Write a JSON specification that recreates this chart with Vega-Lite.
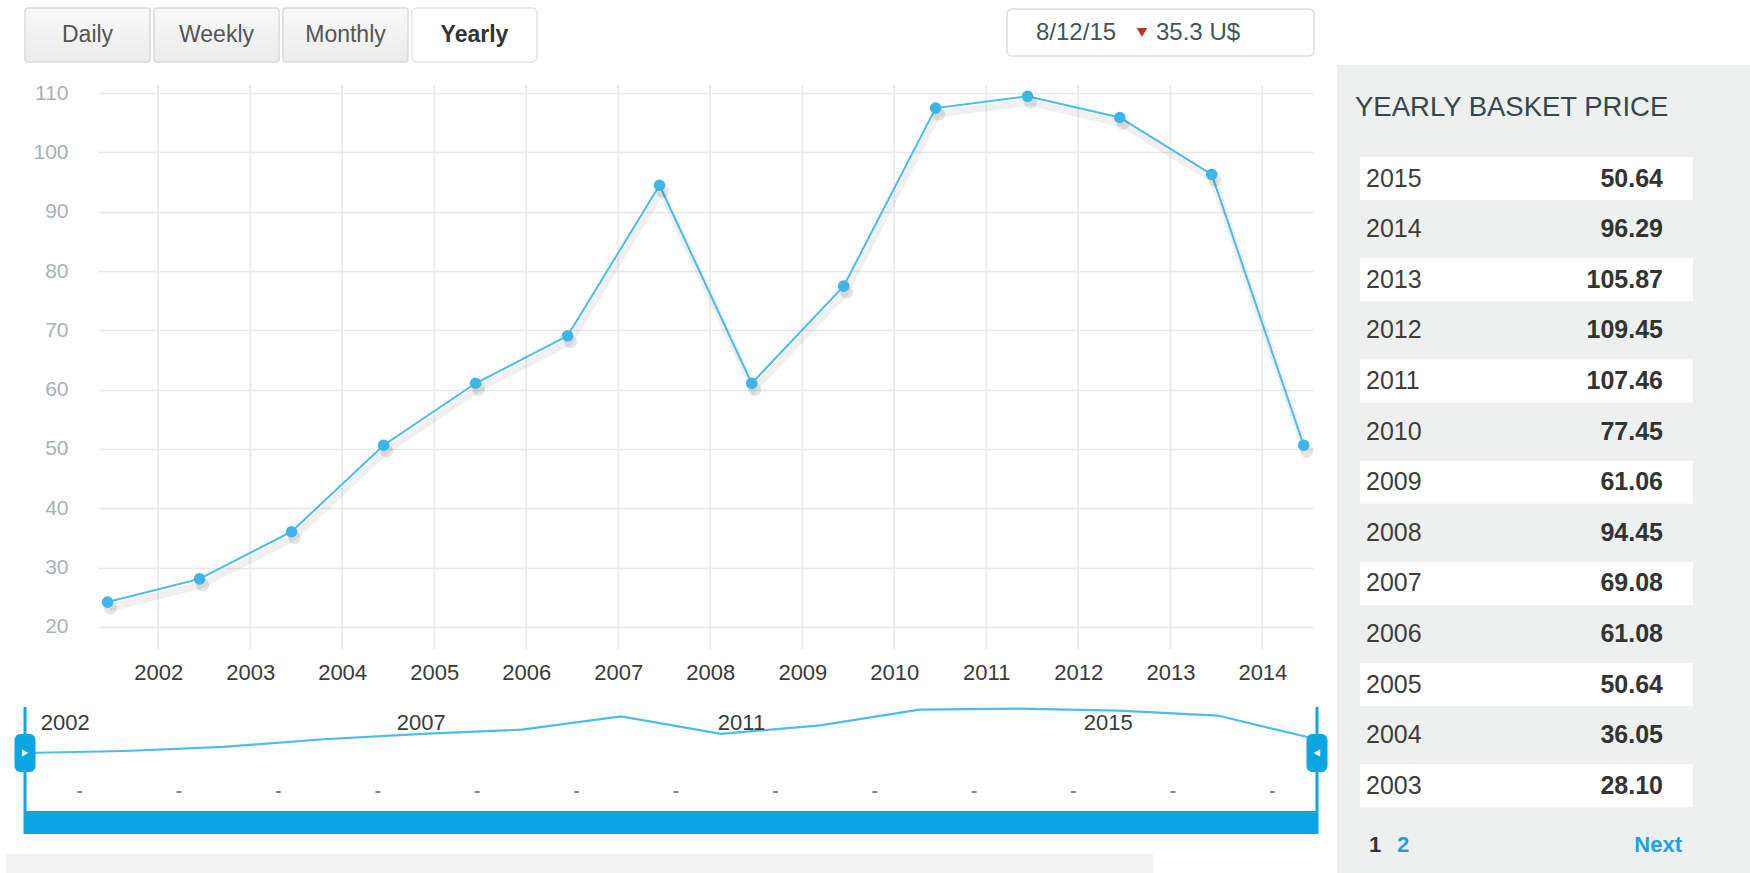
{
  "$schema": "https://vega.github.io/schema/vega-lite/v6.json",
  "width": 1750,
  "height": 873,
  "autosize": {"type": "none"},
  "padding": 0,
  "background": "#ffffff",
  "config": {"view": {"stroke": null}, "font": "Liberation Sans"},
  "datasets": {
    "prices": [
      {"year": 2002, "date": "2001-06-14", "price": 24.2},
      {"year": 2003, "date": "2002-06-14", "price": 28.10},
      {"year": 2004, "date": "2003-06-14", "price": 36.05},
      {"year": 2005, "date": "2004-06-14", "price": 50.64},
      {"year": 2006, "date": "2005-06-14", "price": 61.08},
      {"year": 2007, "date": "2006-06-14", "price": 69.08},
      {"year": 2008, "date": "2007-06-14", "price": 94.45},
      {"year": 2009, "date": "2008-06-14", "price": 61.06},
      {"year": 2010, "date": "2009-06-14", "price": 77.45},
      {"year": 2011, "date": "2010-06-14", "price": 107.46},
      {"year": 2012, "date": "2011-06-14", "price": 109.45},
      {"year": 2013, "date": "2012-06-14", "price": 105.87},
      {"year": 2014, "date": "2013-06-14", "price": 96.29},
      {"year": 2015, "date": "2014-06-14", "price": 50.64}
    ],
    "navRange": [
      {"start": "2001-06-14", "end": "2014-06-14"}
    ],
    "handles": [
      {"side": "left", "date": "2001-06-14"},
      {"side": "right", "date": "2014-06-14"}
    ],
    "navLabels": [
      {"label": "2002", "date": "2001-08-11"},
      {"label": "2007", "date": "2005-03-11"},
      {"label": "2011", "date": "2008-06-03"},
      {"label": "2015", "date": "2012-02-08"}
    ],
    "years": [
      {"date": "2002-01-01"}, {"date": "2003-01-01"}, {"date": "2004-01-01"}, {"date": "2005-01-01"},
      {"date": "2006-01-01"}, {"date": "2007-01-01"}, {"date": "2008-01-01"}, {"date": "2009-01-01"},
      {"date": "2010-01-01"}, {"date": "2011-01-01"}, {"date": "2012-01-01"}, {"date": "2013-01-01"},
      {"date": "2014-01-01"}
    ],
    "buttons": [
      {"label": "Daily"}, {"label": "Weekly"}, {"label": "Monthly"}, {"label": "Yearly"}
    ],
    "latest": [
      {"date": "8/12/15", "price": "35.3 U$"}
    ],
    "panel": [
      {"title": "YEARLY BASKET PRICE"}
    ],
    "blank": [{"id": 1}]
  },
  "layer": [
    {
      "data": {"name": "blank"},
      "encoding": {
        "x": {"datum": 0, "type": "quantitative", "scale": {"domain": [0, 1], "range": [6, 1153]}, "axis": null},
        "y": {"datum": 0, "type": "quantitative", "scale": {"domain": [0, 1], "range": [854, 873]}, "axis": null}
      },
      "layer": [
        {"mark": {"type": "rect", "fill": "#f2f2f2"}, "encoding": {"x2": {"datum": 1}, "y2": {"datum": 1}}}
      ]
    },
    {
      "encoding": {
        "x": {
          "field": "date", "type": "temporal",
          "scale": {"type": "utc", "domain": [{"year": 2001, "month": 5, "date": 7, "utc": true}, {"year": 2014, "month": 7, "date": 21, "utc": true}], "range": [98, 1313]},
          "axis": {"orient": "bottom", "offset": -224, "format": "%Y", "tickCount": {"interval": "year", "step": 1}, "grid": false, "ticks": false, "domain": false, "labelFlush": false, "labelOverlap": false, "labelPadding": 13, "labelFontSize": 22, "labelColor": "#3a3a3a", "title": null}
        }
      },
      "layer": [
        {
          "data": {"name": "years"},
          "mark": {"type": "rule", "color": "#e8e8e8", "strokeWidth": 1.5},
          "encoding": {
            "y": {"datum": 16.29, "type": "quantitative", "scale": {"domain": [16.29, 111.35], "range": [649, 85], "nice": false, "zero": false}, "axis": {"orient": "left", "offset": -98, "values": [20, 30, 40, 50, 60, 70, 80, 90, 100, 110], "grid": true, "gridColor": "#e8e8e8", "gridWidth": 1.5, "ticks": false, "domain": false, "labelPadding": 30, "labelFontSize": 21, "labelColor": "#a9b1b6", "title": null}},
            "y2": {"datum": 111.35}
          }
        },
        {
          "data": {"name": "prices"},
          "encoding": {
            "y": {"field": "price", "type": "quantitative", "scale": {"domain": [16.29, 111.35], "range": [649, 85], "nice": false, "zero": false}, "axis": {"orient": "left", "offset": -98, "values": [20, 30, 40, 50, 60, 70, 80, 90, 100, 110], "grid": true, "gridColor": "#e8e8e8", "gridWidth": 1.5, "ticks": false, "domain": false, "labelPadding": 30, "labelFontSize": 21, "labelColor": "#a9b1b6", "title": null}}
          },
          "layer": [
            {"mark": {"type": "line", "color": "#000000", "opacity": 0.06, "strokeWidth": 7, "xOffset": 2, "yOffset": 6}},
            {"mark": {"type": "line", "color": "#4cbbe9", "strokeWidth": 2}},
            {"mark": {"type": "circle", "color": "#000000", "opacity": 0.1, "size": 170, "xOffset": 3, "yOffset": 6}},
            {"mark": {"type": "circle", "color": "#3db5e8", "opacity": 1, "size": 135}}
          ]
        }
      ]
    },
    {
      "encoding": {
        "x": {"field": "date", "type": "temporal", "scale": {"type": "utc", "domain": [{"year": 2001, "month": 6, "date": 14, "utc": true}, {"year": 2014, "month": 6, "date": 14, "utc": true}], "range": [25, 1317]}, "axis": null}
      },
      "layer": [
        {
          "data": {"name": "navRange"},
          "mark": {"type": "rect", "fill": "#0aa6e3"},
          "encoding": {
            "x": {"field": "start", "type": "temporal"},
            "x2": {"field": "end"},
            "y": {"datum": -87.3, "type": "quantitative", "scale": {"domain": [-140, 140], "range": [838.4, 692.8], "nice": false, "zero": false}, "axis": null},
            "y2": {"datum": -131.6}
          }
        },
        {
          "data": {"name": "prices"},
          "mark": {"type": "line", "color": "#4dbcea", "strokeWidth": 2.2, "interpolate": "linear"},
          "encoding": {"y": {"field": "price", "type": "quantitative", "scale": {"domain": [-140, 140], "range": [838.4, 692.8], "nice": false, "zero": false}, "axis": null}}
        },
        {
          "data": {"name": "navLabels"},
          "mark": {"type": "text", "align": "left", "baseline": "middle", "fontSize": 22, "color": "#3a3a3a"},
          "encoding": {"y": {"datum": 81.9, "type": "quantitative", "scale": {"domain": [-140, 140], "range": [838.4, 692.8], "nice": false, "zero": false}, "axis": null}, "text": {"field": "label", "type": "nominal"}}
        },
        {
          "data": {"name": "years"},
          "mark": {"type": "tick", "orient": "horizontal", "size": 5, "thickness": 2, "color": "#555555"},
          "encoding": {"y": {"datum": -50.8, "type": "quantitative", "scale": {"domain": [-140, 140], "range": [838.4, 692.8], "nice": false, "zero": false}, "axis": null}}
        },
        {
          "data": {"name": "handles"},
          "mark": {"type": "rule", "color": "#0aa6e3", "strokeWidth": 3},
          "encoding": {"y": {"datum": 112.7, "type": "quantitative", "scale": {"domain": [-140, 140], "range": [838.4, 692.8], "nice": false, "zero": false}, "axis": null}, "y2": {"datum": -131.6}}
        },
        {
          "data": {"name": "handles"},
          "mark": {"type": "rect", "fill": "#0aa6e3", "cornerRadius": 6, "xOffset": -10.5, "x2Offset": 10.5},
          "encoding": {"x2": {"field": "date"}, "y": {"datum": 60.7, "type": "quantitative", "scale": {"domain": [-140, 140], "range": [838.4, 692.8], "nice": false, "zero": false}, "axis": null}, "y2": {"datum": -12.3}}
        },
        {
          "data": {"name": "handles"},
          "mark": {"type": "point", "filled": true, "color": "#ffffff", "opacity": 1, "size": 55},
          "encoding": {
            "y": {"datum": 24.2, "type": "quantitative", "scale": {"domain": [-140, 140], "range": [838.4, 692.8], "nice": false, "zero": false}, "axis": null},
            "shape": {"field": "side", "type": "nominal", "scale": {"domain": ["left", "right"], "range": ["triangle-right", "triangle-left"]}, "legend": null}
          }
        }
      ]
    },
    {
      "data": {"name": "buttons"},
      "encoding": {
        "x": {"field": "label", "type": "nominal", "sort": null, "scale": {"type": "band", "range": [25, 537], "paddingInner": 0.03, "paddingOuter": 0}, "axis": null},
        "y": {"datum": 0, "type": "quantitative", "scale": {"domain": [0, 1], "range": [62, 8]}, "axis": null}
      },
      "layer": [
        {
          "transform": [{"filter": "datum.label != 'Yearly'"}],
          "mark": {"type": "rect", "fill": {"gradient": "linear", "x1": 0, "y1": 0, "x2": 0, "y2": 1, "stops": [{"offset": 0, "color": "#f9f9f9"}, {"offset": 1, "color": "#ececec"}]}, "stroke": "#dadada", "strokeWidth": 1.5, "cornerRadius": 3},
          "encoding": {"y2": {"datum": 1}}
        },
        {
          "transform": [{"filter": "datum.label == 'Yearly'"}],
          "mark": {"type": "rect", "fill": "#ffffff", "stroke": "#e4e4e4", "strokeWidth": 1.5, "cornerRadius": 5},
          "encoding": {"y2": {"datum": 1}}
        },
        {
          "transform": [{"filter": "datum.label != 'Yearly'"}],
          "mark": {"type": "text", "baseline": "middle", "fontSize": 23, "color": "#555555"},
          "encoding": {"y": {"datum": 0.5, "type": "quantitative"}, "text": {"field": "label", "type": "nominal"}}
        },
        {
          "transform": [{"filter": "datum.label == 'Yearly'"}],
          "mark": {"type": "text", "baseline": "middle", "fontSize": 23, "fontWeight": "bold", "color": "#333333"},
          "encoding": {"y": {"datum": 0.5, "type": "quantitative"}, "text": {"field": "label", "type": "nominal"}}
        }
      ]
    },
    {
      "data": {"name": "latest"},
      "encoding": {
        "x": {"datum": 0, "type": "quantitative", "scale": {"domain": [0, 1], "range": [1007, 1314]}, "axis": null},
        "y": {"datum": 0, "type": "quantitative", "scale": {"domain": [0, 1], "range": [56, 9]}, "axis": null}
      },
      "layer": [
        {"mark": {"type": "rect", "fill": "#ffffff", "stroke": "#dddddd", "strokeWidth": 1.5, "cornerRadius": 5}, "encoding": {"x2": {"datum": 1}, "y2": {"datum": 1}}},
        {"mark": {"type": "text", "align": "left", "baseline": "middle", "dx": 29, "fontSize": 24, "color": "#47535b"}, "encoding": {"y": {"datum": 0.5, "type": "quantitative"}, "text": {"field": "date", "type": "nominal"}}},
        {"mark": {"type": "point", "shape": "triangle-down", "filled": true, "color": "#b8371b", "opacity": 1, "size": 110, "xOffset": 135}, "encoding": {"y": {"datum": 0.5, "type": "quantitative"}}},
        {"mark": {"type": "text", "align": "left", "baseline": "middle", "dx": 149, "fontSize": 24, "color": "#47535b"}, "encoding": {"y": {"datum": 0.5, "type": "quantitative"}, "text": {"field": "price", "type": "nominal"}}}
      ]
    },
    {
      "layer": [
        {
          "data": {"name": "panel"},
          "encoding": {
            "x": {"datum": 0, "type": "quantitative", "scale": {"domain": [0, 1], "range": [1337, 1750]}, "axis": null},
            "y": {"datum": 0, "type": "quantitative", "scale": {"domain": [0, 1], "range": [65, 873]}, "axis": null}
          },
          "layer": [
            {"mark": {"type": "rect", "fill": "#eef0ef"}, "encoding": {"x2": {"datum": 1}, "y2": {"datum": 1}}},
            {"mark": {"type": "text", "align": "left", "baseline": "middle", "dx": 18, "dy": 43, "fontSize": 27.5, "color": "#34474f"}, "encoding": {"text": {"field": "title", "type": "nominal"}}},
            {"mark": {"type": "text", "align": "center", "baseline": "middle", "dx": 38, "dy": -28, "fontSize": 22, "fontWeight": "bold", "color": "#333333", "text": "1"}, "encoding": {"y": {"datum": 1, "type": "quantitative"}}},
            {"mark": {"type": "text", "align": "center", "baseline": "middle", "dx": 66, "dy": -28, "fontSize": 22, "fontWeight": "bold", "color": "#1ba1e2", "text": "2"}, "encoding": {"y": {"datum": 1, "type": "quantitative"}}},
            {"mark": {"type": "text", "align": "right", "baseline": "middle", "dx": -68, "dy": -28, "fontSize": 22, "fontWeight": "bold", "color": "#1ba1e2", "text": "Next"}, "encoding": {"x": {"datum": 1, "type": "quantitative"}, "y": {"datum": 1, "type": "quantitative"}}}
          ]
        },
        {
          "data": {"name": "prices"},
          "transform": [{"filter": "datum.year >= 2003"}],
          "encoding": {
            "y": {"field": "year", "type": "ordinal", "sort": "descending", "scale": {"type": "band", "range": [153.3, 811.1], "paddingInner": 0.15, "paddingOuter": 0.075}, "axis": null},
            "x": {"datum": 0, "type": "quantitative", "scale": {"domain": [0, 1], "range": [1360, 1693]}, "axis": null}
          },
          "layer": [
            {"transform": [{"filter": "datum.year % 2 == 1"}], "mark": {"type": "rect", "fill": "#ffffff"}, "encoding": {"x2": {"datum": 1}}},
            {"mark": {"type": "text", "align": "left", "baseline": "middle", "dx": 6, "fontSize": 25, "color": "#3d3d3d"}, "encoding": {"text": {"field": "year", "type": "nominal"}}},
            {"mark": {"type": "text", "align": "right", "baseline": "middle", "dx": -30, "fontSize": 25, "fontWeight": "bold", "color": "#333333"}, "encoding": {"x": {"datum": 1, "type": "quantitative"}, "text": {"field": "price", "type": "quantitative", "format": ".2f"}}}
          ]
        }
      ],
      "resolve": {"scale": {"x": "independent", "y": "independent"}}
    }
  ],
  "resolve": {"scale": {"x": "independent", "y": "independent", "shape": "independent"}}
}
